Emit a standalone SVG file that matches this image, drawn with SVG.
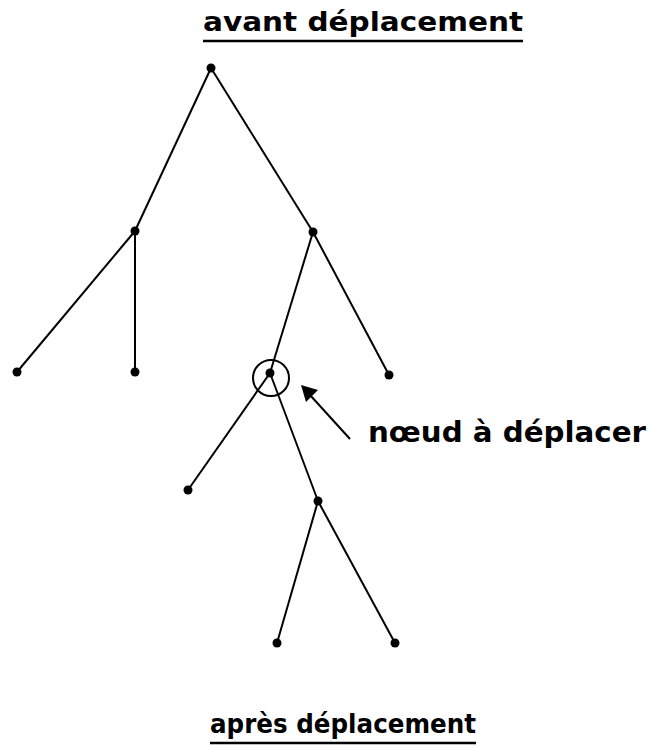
<svg xmlns="http://www.w3.org/2000/svg" width="650" height="748" viewBox="0 0 650 748">
<style>
.t{font-family:"DejaVu Sans","Liberation Sans",sans-serif;font-weight:bold;fill:#000}
.e{stroke:#000;stroke-width:2;fill:none}
.n{fill:#000}
.u{stroke:#000;stroke-width:2.5}
</style>
<rect width="650" height="748" fill="#fff"/>
<text class="t" x="203" y="31" font-size="26" textLength="320" lengthAdjust="spacingAndGlyphs">avant déplacement</text>
<line class="u" x1="203" y1="41" x2="523" y2="41"/>
<g id="connectors">
<line class="e" x1="211" y1="68" x2="135" y2="231"/>
<line class="e" x1="211" y1="68" x2="313" y2="232"/>
<line class="e" x1="135" y1="231" x2="17" y2="372"/>
<line class="e" x1="135" y1="231" x2="135" y2="372"/>
<line class="e" x1="313" y1="232" x2="270" y2="373"/>
<line class="e" x1="313" y1="232" x2="389" y2="375"/>
<line class="e" x1="270" y1="373" x2="188" y2="490"/>
<line class="e" x1="270" y1="373" x2="318" y2="501"/>
<line class="e" x1="318" y1="501" x2="277" y2="643"/>
<line class="e" x1="318" y1="501" x2="395" y2="643"/>
</g>
<g id="n-root"><circle class="n" cx="211" cy="68" r="4.5"/></g>
<g id="n-left"><circle class="n" cx="135" cy="231" r="4.5"/></g>
<g id="n-right"><circle class="n" cx="313" cy="232" r="4.5"/></g>
<g id="n-ll"><circle class="n" cx="17" cy="372" r="4.5"/></g>
<g id="n-lm"><circle class="n" cx="135" cy="372" r="4.5"/></g>
<g id="n-rr"><circle class="n" cx="389" cy="375" r="4.5"/></g>
<g id="n-move"><circle class="n" cx="270" cy="373" r="4.5"/><circle cx="271" cy="378" r="18" fill="none" stroke="#000" stroke-width="2"/></g>
<g id="n-ml"><circle class="n" cx="188" cy="490" r="4.5"/></g>
<g id="n-mr"><circle class="n" cx="318" cy="501" r="4.5"/></g>
<g id="n-b1"><circle class="n" cx="277" cy="643" r="4.5"/></g>
<g id="n-b2"><circle class="n" cx="395" cy="643" r="4.5"/></g>
<g id="arrow">
<line class="e" x1="350" y1="439" x2="310" y2="395"/>
<polygon points="301,385 318,390 306,402" fill="#000"/>
</g>
<text class="t" x="368" y="442" font-size="28" textLength="278" lengthAdjust="spacingAndGlyphs">nœud à déplacer</text>
<text class="t" x="210" y="733" font-size="26" textLength="266" lengthAdjust="spacingAndGlyphs">après déplacement</text>
<line class="u" x1="210" y1="743" x2="476" y2="743"/>
</svg>
